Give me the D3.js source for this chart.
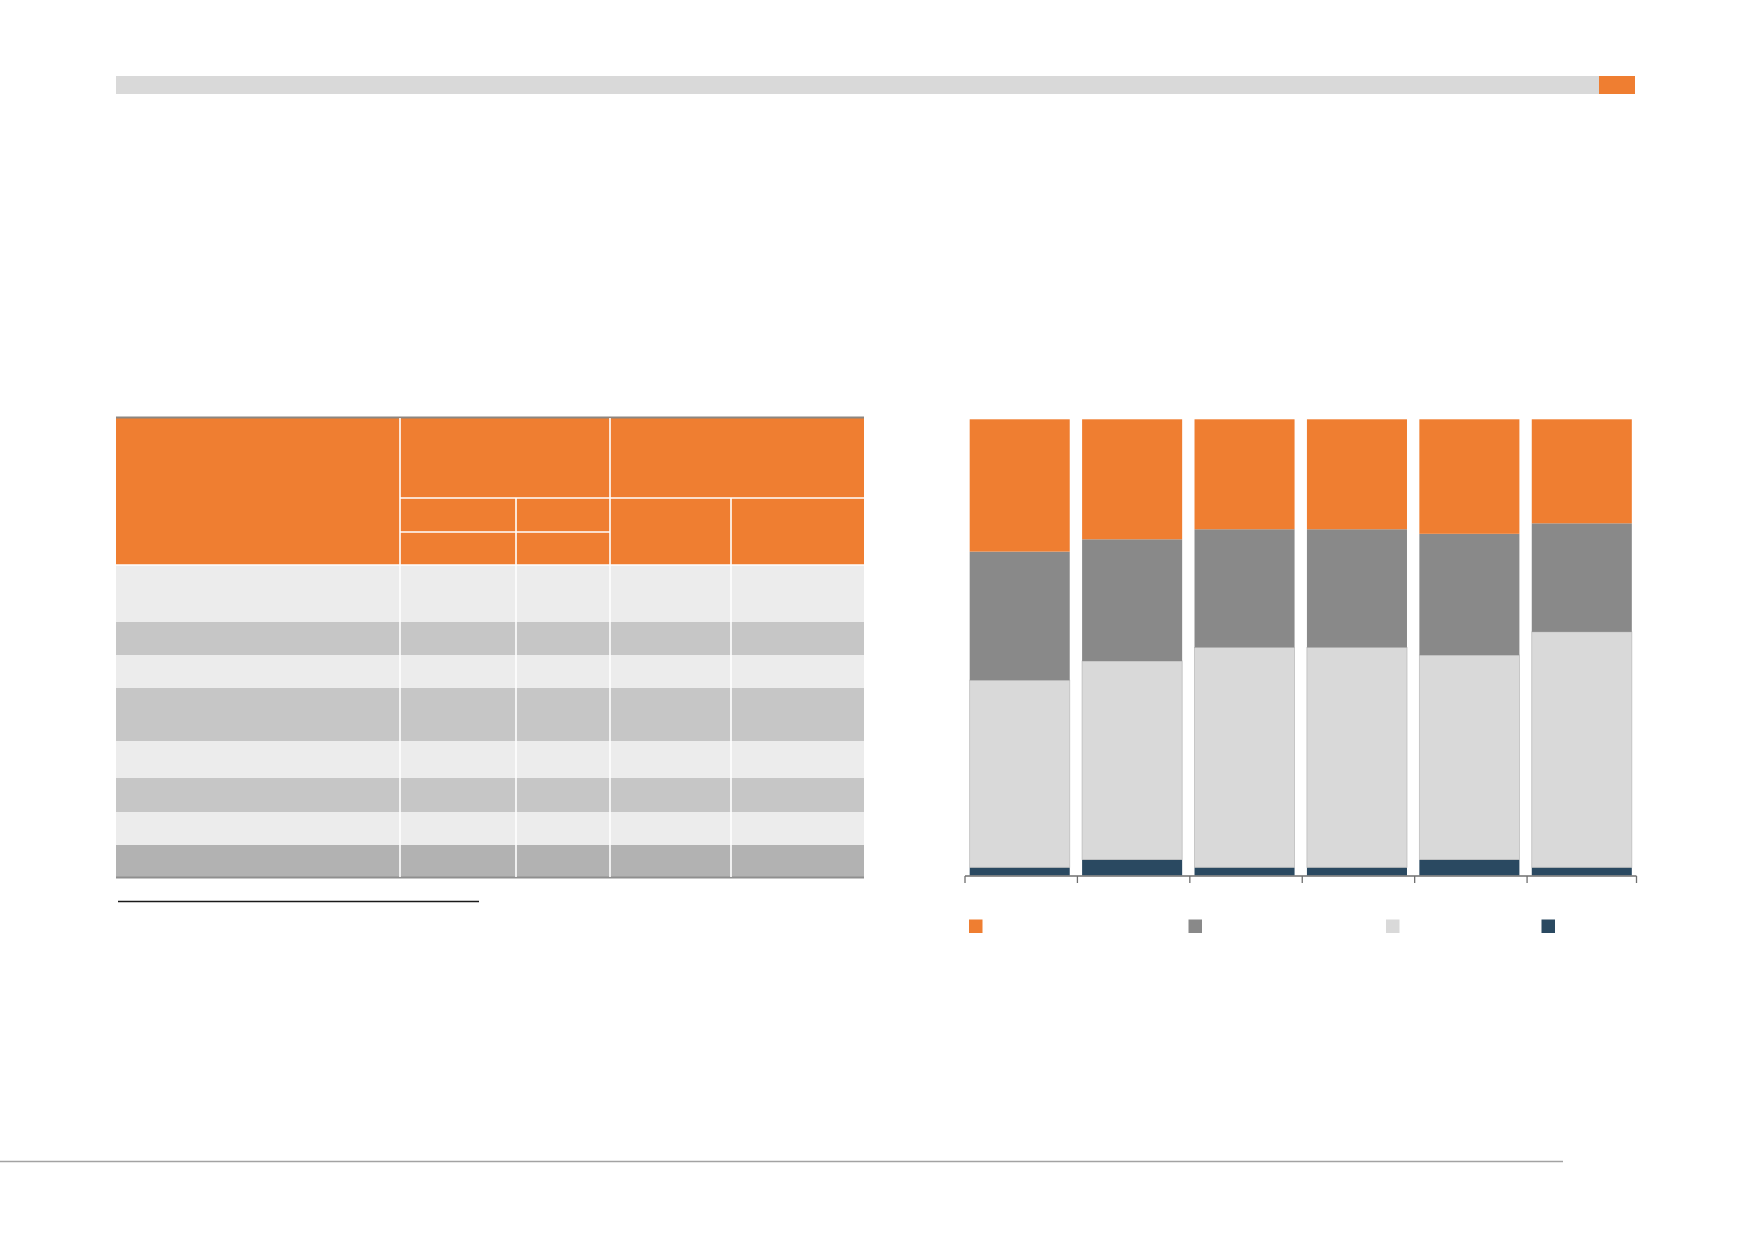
<!DOCTYPE html>
<html>
<head>
<meta charset="utf-8">
<script src="https://cdn.jsdelivr.net/npm/d3@7"></script>
<style>
  html, body { margin: 0; padding: 0; background: #fff; }
  svg { display: block; }
</style>
</head>
<body>
<svg id="page" width="1752" height="1239"></svg>
<script>
'use strict';

// stacked share per period, bottom segment first (percent)
const periods = ['p1', 'p2', 'p3', 'p4', 'p5', 'p6'];
const navyShare = [1.8, 3.5, 1.8, 1.8, 3.5, 1.8];
const lightShare = [41.0, 43.5, 48.2, 48.2, 44.8, 51.6];
const greyShare = [28.2, 26.7, 25.9, 25.9, 26.6, 23.8];
const orangeShare = [29.0, 26.3, 24.1, 24.1, 25.1, 22.8];

const seriesKeys = ['navy', 'light', 'grey', 'orange'];
const legendKeys = ['orange', 'grey', 'light', 'navy'];

// table layout: relative row heights of the body, column edges
const tableCols = [116, 400, 516, 610, 731, 864];
const bodyRowHeights = [57, 33, 33, 53, 37, 34, 33, 32];
const bodyRowShades = ['light', 'dark', 'light', 'dark', 'light', 'dark', 'light', 'darkest'];

const colors = {
    orange: '#ef7e31',
    grey: '#898989',
    light: '#d9d9d9',
    navy: '#2a4961'
};
const shades = { light: '#ececec', dark: '#c6c6c6', darkest: '#b2b2b2' };

const svg = d3.select('#page');

// ---- page furniture ----
svg.append('rect').attr('x', 116).attr('y', 76).attr('width', 1483).attr('height', 18).attr('fill', '#d9d9d9');
svg.append('rect').attr('x', 1599).attr('y', 76).attr('width', 36).attr('height', 18).attr('fill', colors.orange);
svg.append('line').attr('x1', 0).attr('x2', 1563).attr('y1', 1161.5).attr('y2', 1161.5)
    .attr('stroke', '#a3a3a3').attr('stroke-width', 1.5);

// ---- table ----
const table = svg.append('g');
const headTop = 418, headBottom = 565;
table.append('rect').attr('x', tableCols[0]).attr('y', headTop)
    .attr('width', tableCols[5] - tableCols[0]).attr('height', headBottom - headTop)
    .attr('fill', colors.orange);
table.append('line').attr('x1', tableCols[0]).attr('x2', tableCols[5]).attr('y1', 417.5).attr('y2', 417.5)
    .attr('stroke', '#8d8680').attr('stroke-width', 2);

const rowY = [headBottom];
bodyRowHeights.forEach((h, i) => rowY.push(rowY[i] + h));

table.selectAll('.row')
    .data(bodyRowHeights)
    .enter()
    .append('rect')
    .attr('class', 'row')
    .attr('x', tableCols[0])
    .attr('y', (d, i) => rowY[i])
    .attr('width', tableCols[5] - tableCols[0])
    .attr('height', (d) => d)
    .attr('fill', (d, i) => shades[bodyRowShades[i]]);

const tableBottom = rowY[rowY.length - 1];
table.append('line').attr('x1', tableCols[0]).attr('x2', tableCols[5])
    .attr('y1', tableBottom + 0.5).attr('y2', tableBottom + 0.5)
    .attr('stroke', '#8f8f8f').attr('stroke-width', 2);

// white cell dividers
const white = (x1, y1, x2, y2) => table.append('line')
    .attr('x1', x1).attr('y1', y1).attr('x2', x2).attr('y2', y2)
    .attr('stroke', '#fff').attr('stroke-width', 1.6);

white(tableCols[1], headTop, tableCols[1], tableBottom);
white(tableCols[3], headTop, tableCols[3], tableBottom);
white(tableCols[2], 498, tableCols[2], tableBottom);
white(tableCols[4], 498, tableCols[4], tableBottom);
white(tableCols[1], 498, tableCols[5], 498);
white(tableCols[1], 532, tableCols[3], 532);
white(tableCols[0], headBottom, tableCols[5], headBottom);

// footnote rule
svg.append('line').attr('x1', 118).attr('x2', 479).attr('y1', 901.5).attr('y2', 901.5)
    .attr('stroke', '#1a1a1a').attr('stroke-width', 1.5);

// ---- stacked chart ----
const rows = periods.map((p, i) => ({
    period: p,
    navy: navyShare[i],
    light: lightShare[i],
    grey: greyShare[i],
    orange: orangeShare[i]
}));

const x = d3.scaleBand()
    .domain(periods)
    .range([963.5, 1638])
    .paddingInner(0.11)
    .paddingOuter(0.055);

const y = d3.scaleLinear()
    .domain([0, 100])
    .range([875.5, 419.3]);

const stack = d3.stack().keys(seriesKeys);
const layers = stack(rows);

const chart = svg.append('g');

chart.selectAll('.layer')
    .data(layers)
    .enter()
    .append('g')
    .attr('class', 'layer')
    .attr('fill', (d) => colors[d.key])
    .selectAll('rect')
    .data((d) => d.map((v) => Object.assign(v, { key: d.key })))
    .enter()
    .append('rect')
    .attr('x', (d) => x(d.data.period))
    .attr('width', x.bandwidth())
    .attr('y', (d) => y(d[1]))
    .attr('height', (d) => y(d[0]) - y(d[1]))
    .attr('stroke', (d) => d.key === 'light' ? '#bdbdbd' : 'none')
    .attr('stroke-width', 0.8);

// axis with ticks at band edges
const gap = x.step() - x.bandwidth();
const tickXs = periods.map((p) => x(p) - gap / 2 + 1.5);
tickXs.push(x(periods[periods.length - 1]) + x.bandwidth() + gap / 2 - 1.5);

const axisY = 876;
chart.append('line')
    .attr('x1', tickXs[0]).attr('x2', tickXs[tickXs.length - 1])
    .attr('y1', axisY).attr('y2', axisY)
    .attr('stroke', '#6f6f6f').attr('stroke-width', 1.3);

chart.selectAll('.tick')
    .data(tickXs)
    .enter()
    .append('line')
    .attr('class', 'tick')
    .attr('x1', (d) => d).attr('x2', (d) => d)
    .attr('y1', axisY).attr('y2', axisY + 7)
    .attr('stroke', '#6f6f6f').attr('stroke-width', 1.3);

// legend
const legendX = [969, 1188.5, 1386, 1541.5];
svg.selectAll('.legend')
    .data(legendKeys)
    .enter()
    .append('rect')
    .attr('class', 'legend')
    .attr('x', (d, i) => legendX[i])
    .attr('y', 919.5)
    .attr('width', 13.5)
    .attr('height', 13.5)
    .attr('fill', (d) => colors[d]);
</script>
</body>
</html>
